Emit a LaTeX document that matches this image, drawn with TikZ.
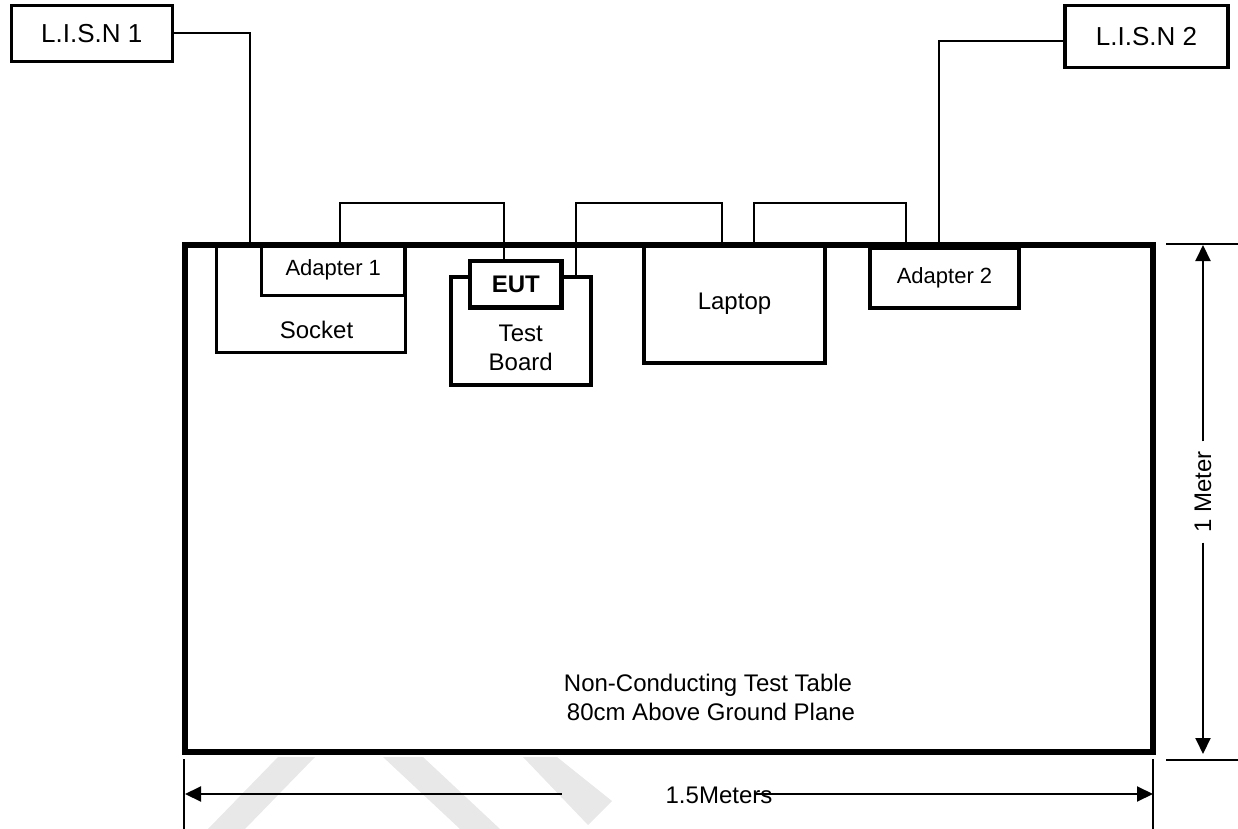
\documentclass[tikz,border=0pt]{standalone}
\usepackage{fontspec}
\setmainfont{Liberation Sans}
\usetikzlibrary{arrows.meta,calc}
\definecolor{wmGray}{RGB}{232,232,232}

\begin{document}
\begin{tikzpicture}[x=0.5pt,y=-0.5pt,
  lbl/.style={inner sep=0pt, outer sep=0pt, align=center, font=\fontsize{12}{14.5}\selectfont},
  box/.style={lbl, draw, rectangle},
  wire/.style={line width=1pt},
  tick/.style={line width=1pt},
  dim/.style={line width=1pt, -{Triangle[length=8pt,width=7.5pt]}}]
  \useasboundingbox (0,0) rectangle (1238,829);

  % faint watermark strokes
  \fill[wmGray] (208,829) -- (245,829) -- (315,757) -- (278,757) -- cycle;
  \fill[wmGray] (383,757) -- (423,757) -- (500,829) -- (460,829) -- cycle;
  \fill[wmGray] (523,757) -- (557,757) -- (612,801) -- (588,825) -- cycle;

  % test table
  \node[box, line width=3pt, minimum width=484pt, minimum height=253.75pt] (table) at (669,498.25) {};
  \node[lbl] (tabletxt) at (708,697) {Non-Conducting Test Table\\\hspace{3pt}80cm Above Ground Plane};

  % equipment on the table
  \node[box, line width=1.5pt, minimum width=94.5pt, minimum height=54pt] (socket) at (310.5,298.5) {};
  \node[lbl] (sockettxt) at (316.5,330) {Socket};
  \node[box, line width=1.75pt, minimum width=71.75pt, minimum height=25.5pt, font=\fontsize{11}{13}\selectfont] (adapter1) at (333.25,270) {Adapter 1};
  \node[box, line width=2pt, minimum width=69.75pt, minimum height=54.25pt] (board) at (520.75,330.75) {};
  \node[lbl] (boardtxt) at (520.75,347.5) {Test\\Board};
  \node[box, line width=2.25pt, fill=white, minimum width=45.75pt, minimum height=23.25pt, font=\fontsize{12}{14.5}\selectfont\bfseries] (eut) at (515.75,284.25) {EUT};
  \node[box, line width=1.75pt, minimum width=90.5pt, minimum height=59.25pt] (laptop) at (734.5,303.75) {Laptop};
  \node[box, line width=2pt, minimum width=74.5pt, minimum height=30pt, font=\fontsize{11}{13}\selectfont] (adapter2) at (944.5,278) {Adapter 2};

  % LISNs
  \node[box, line width=1.5pt, minimum width=80.25pt, minimum height=28pt, font=\fontsize{13}{15}\selectfont] (lisn1) at (91.75,33.5) {L.I.S.N 1};
  \node[box, line width=1.6pt, minimum width=81.5pt, minimum height=31pt, font=\fontsize{13}{15}\selectfont] (lisn2) at (1146.5,36.5) {L.I.S.N 2};

  % cables
  \draw[wire] (lisn1.east) -| ($(socket.north west)!0.18!(socket.north east)$);
  \draw[wire] ([xshift=3.5pt]adapter1.north) -- ++(0,-41.5) -| ([xshift=-6pt]eut.north);
  \draw[wire] ([xshift=27.6pt]board.north) -- ++(0,-73.5) -| ([xshift=-6.25pt]laptop.north);
  \draw[wire] ([xshift=9.75pt]laptop.north) -- ++(0,-41.5) -| ([xshift=-19.25pt]adapter2.north);
  \draw[wire] ([xshift=-2.75pt]adapter2.north) |- ([yshift=-2.25pt]lisn2.west);

  % 1 Meter
  \coordinate (mTop) at (1203,245);
  \coordinate (mBot) at (1203,754);
  \draw[tick] (1166,244) -- (1238,244);
  \draw[tick] (1166,760) -- (1238,760);
  \node[lbl, rotate=90, inner xsep=5pt] (meter) at (1203,492) {1 Meter};
  \draw[dim] (meter.east) -- (mTop);
  \draw[dim] (meter.west) -- (mBot);

  % 1.5 Meters
  \coordinate (wLeft) at (185,794);
  \coordinate (wRight) at (1153,794);
  \draw[tick] (184,759) -- (184,829);
  \draw[tick] (1153,759) -- (1153,829);
  \node[lbl] (wide) at (719,795) {1.5Meters};
  \draw[dim] ([xshift=-52pt]wLeft -| wide.west) -- (wLeft);
  \draw[dim] ([xshift=-9pt]wRight -| wide.east) -- (wRight);
\end{tikzpicture}
\end{document}
